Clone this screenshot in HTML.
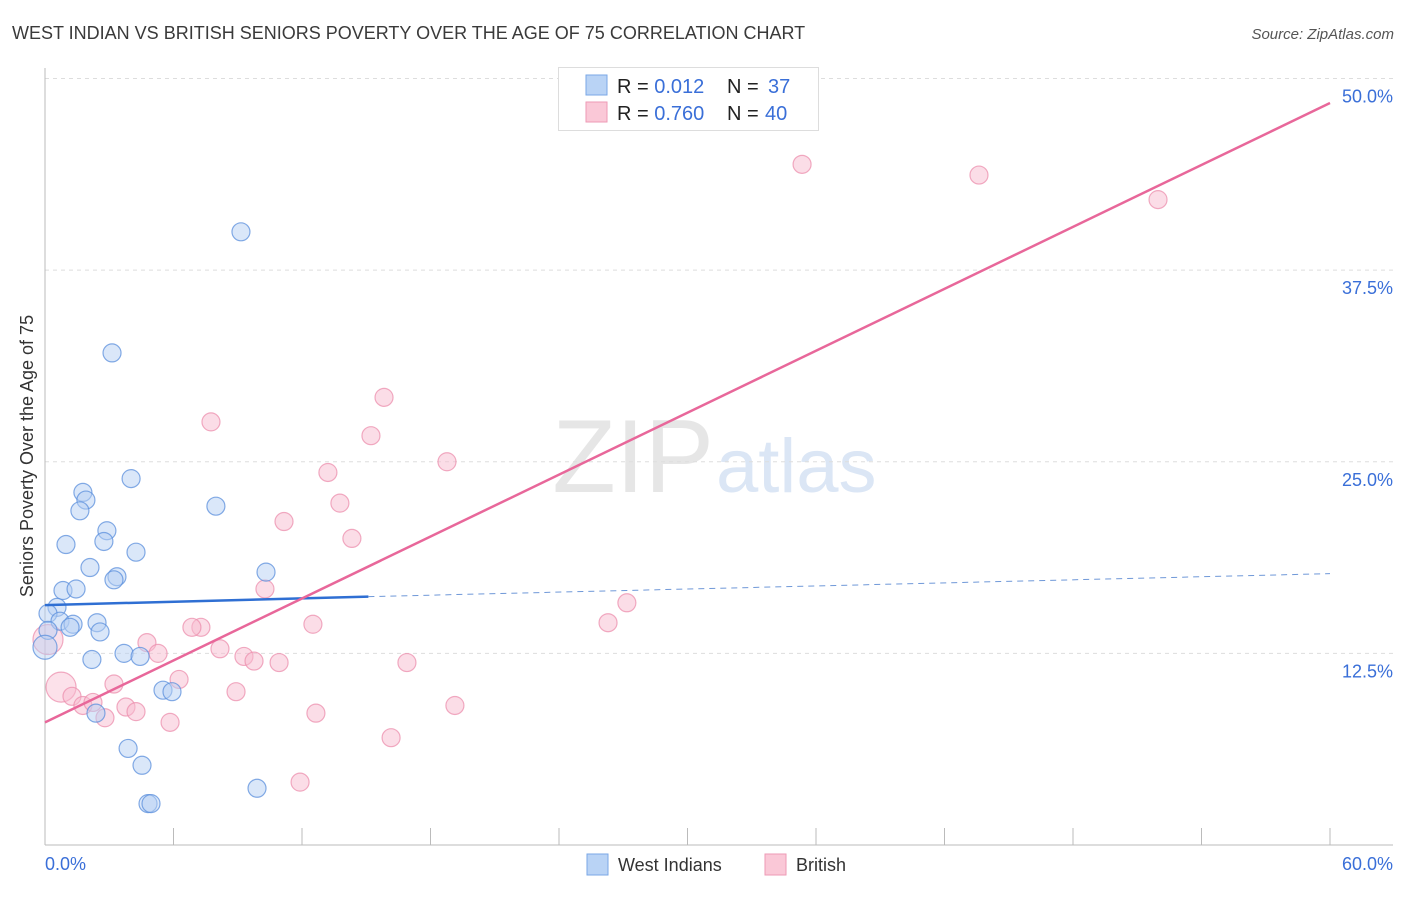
<!DOCTYPE html>
<html><head><meta charset="utf-8"><style>
body{margin:0;background:#fff;font-family:"Liberation Sans",sans-serif}
svg text{font-family:"Liberation Sans",sans-serif}
</style></head><body>
<svg width="1406" height="892">
<text x="12" y="39" font-size="18" fill="#3a3a3a">WEST INDIAN VS BRITISH SENIORS POVERTY OVER THE AGE OF 75 CORRELATION CHART</text>
<text x="1394" y="39" font-size="15" fill="#555" text-anchor="end" font-style="italic">Source: ZipAtlas.com</text>
<text x="714" y="492" font-size="104" fill="#e6e6e6" text-anchor="end" font-family="Liberation Serif">ZIP</text>
<text x="716" y="492" font-size="76" fill="#dbe6f5">atlas</text>
<g id="grid"></g>
<g id="axes"></g>
<g id="pts"></g>
<g id="lines"></g>
<text x="33" y="456" font-size="18" fill="#333" text-anchor="middle" transform="rotate(-90 33 456)">Seniors Poverty Over the Age of 75</text>
<text x="45" y="870" font-size="18" fill="#3a6fd8">0.0%</text>
<text x="1393" y="870" font-size="18" fill="#3a6fd8" text-anchor="end">60.0%</text>
<g>
<rect x="587" y="854" width="21" height="21" fill="#b9d3f5" stroke="#7aa7e6"/>
<text x="618" y="871" font-size="18" fill="#333">West Indians</text>
<rect x="765" y="854" width="21" height="21" fill="#fac8d7" stroke="#ee9ab5"/>
<text x="796" y="871" font-size="18" fill="#333">British</text>
</g>
<g>
<rect x="558.5" y="67.5" width="260" height="63" fill="#fff" stroke="#ddd"/>
<rect x="586" y="75" width="21" height="20" fill="#b9d3f5" stroke="#7aa7e6"/>
<rect x="586" y="102" width="21" height="20" fill="#fac8d7" stroke="#ee9ab5"/>
<text x="617" y="93" font-size="20" fill="#222">R = <tspan fill="#3a6fd8">0.012</tspan><tspan x="727">N = </tspan><tspan fill="#3a6fd8" x="768">37</tspan></text>
<text x="617" y="120" font-size="20" fill="#222">R = <tspan fill="#3a6fd8">0.760</tspan><tspan x="727">N = </tspan><tspan fill="#3a6fd8" x="765">40</tspan></text>
</g>
</svg>
<script>
const yTicks=[12.5,25,37.5,50];
const yTickLabels=["12.5%","25.0%","37.5%","50.0%"];
const xTicks=[0,6,12,18,24,30,36,42,48,54,60];
const westX=[9.15,3.13,4.02,7.98,1.77,1.91,1.63,2.89,2.75,0.98,4.25,10.32,2.10,3.36,3.22,0.84,1.45,0.56,0.14,0.70,1.31,1.17,2.43,2.57,0.14,0.0,2.19,3.69,4.44,5.51,5.93,2.38,3.88,4.53,4.81,4.95,9.90];
const westY=[40.0,32.1,23.9,22.1,23.0,22.5,21.8,20.5,19.8,19.6,19.1,17.8,18.1,17.5,17.3,16.6,16.7,15.5,15.1,14.6,14.4,14.2,14.5,13.9,14.0,12.9,12.1,12.5,12.3,10.1,10.0,8.6,6.3,5.2,2.7,2.7,3.7];
const westBig=[25];
const britX=[35.35,43.61,51.97,15.83,7.75,15.22,18.77,13.21,13.77,11.16,14.33,10.27,27.17,26.29,12.51,7.28,6.86,4.76,5.28,8.17,9.29,9.76,10.93,16.90,6.26,8.92,3.22,0.75,1.26,1.77,2.24,3.78,4.25,2.80,5.84,12.65,19.14,16.16,11.91,0.14];
const britY=[44.4,43.7,42.1,29.2,27.6,26.7,25.0,24.3,22.3,21.1,20.0,16.7,15.8,14.5,14.4,14.2,14.2,13.2,12.5,12.8,12.3,12.0,11.9,11.9,10.8,10.0,10.5,10.3,9.7,9.1,9.3,9.0,8.7,8.3,8.0,8.6,9.1,7.0,4.1,13.4];
const britBig=[27,39];
const westLine=[[0,15.65],[15.1,16.2],[60,17.7]];
const britLine=[[0,8.0],[60,48.4]];
const NS="http://www.w3.org/2000/svg";
const X=v=>45+v*1285/60, Y=v=>845-v*15.33;
function mk(t,a,p){const e=document.createElementNS(NS,t);for(const k in a)e.setAttribute(k,a[k]);document.getElementById(p).appendChild(e);return e;}
yTicks.forEach((t,i)=>{
 const g=mk('line',{x1:45,x2:1393,y1:Y(t),y2:Y(t),stroke:'#ddd','stroke-dasharray':'4,4'},'grid');
 
 
 const l=mk('text',{x:1393,y:Y(t)+24,'font-size':18,fill:'#3a6fd8','text-anchor':'end'},'grid');
 l.textContent=yTickLabels[i];
 
 
});
const ax=mk('line',{x1:45,x2:1393,y1:845,y2:845,stroke:'#bbb'},'axes');


const ay=mk('line',{x1:45,x2:45,y1:68,y2:845,stroke:'#bbb'},'axes');


xTicks.forEach(t=>{
 const e=mk('line',{x1:X(t),x2:X(t),y1:828,y2:845,stroke:'#bbb'},'axes');
 
 
});
function pts(xs,ys,big,fill,stroke,name,br){
 xs.forEach((x,i)=>{
  const b=big.includes(i);
  const c=mk('circle',{cx:X(x),cy:Y(ys[i]),r:b?br:9,fill:fill,'fill-opacity':b?0.45:0.5,stroke:stroke,'stroke-opacity':0.75,'stroke-width':1.2},'pts');
  
  
 });
}
pts(britX,britY,britBig,'#f8bcd0','#ec8fae','british-point',15);
pts(westX,westY,westBig,'#b5d0f3','#5b8fdc','west-indian-point',12);
const b1=mk('line',{x1:X(westLine[0][0]),y1:Y(westLine[0][1]),x2:X(westLine[1][0]),y2:Y(westLine[1][1]),stroke:'#2f6fd3','stroke-width':2.5},'lines');


const b2=mk('line',{x1:X(westLine[1][0]),y1:Y(westLine[1][1]),x2:X(westLine[2][0]),y2:Y(westLine[2][1]),stroke:'#6f98d8','stroke-width':1,'stroke-dasharray':'6,5'},'lines');


const p1=mk('line',{x1:X(britLine[0][0]),y1:Y(britLine[0][1]),x2:X(britLine[1][0]),y2:Y(britLine[1][1]),stroke:'#e8679a','stroke-width':2.5},'lines');


</script>
</body></html>
